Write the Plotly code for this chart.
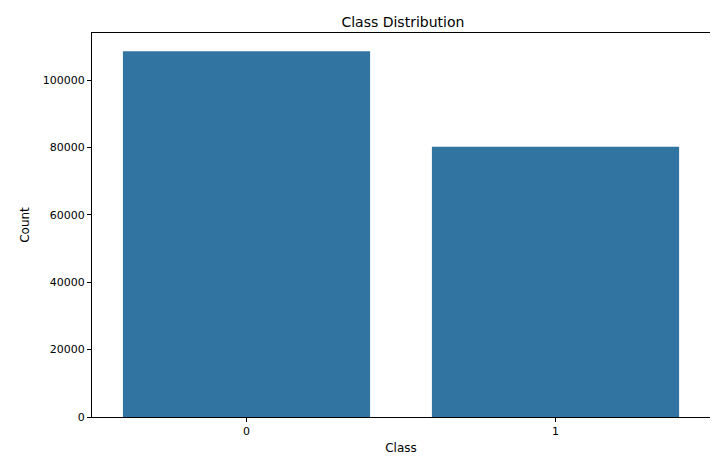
import plotly.graph_objects as go

classes = ["0", "1"]
counts = [108600, 80200]

fig = go.Figure(go.Bar(x=classes, y=counts, marker_color="#3274a1",
                       marker_line_width=0, width=0.8))

axis_common = dict(showline=True, linecolor="black", linewidth=1, mirror=True,
                   ticks="outside", ticklen=4, tickcolor="black", showgrid=False,
                   zeroline=False, tickfont=dict(size=11, color="black"))

fig.update_layout(
    width=718, height=470,
    margin=dict(l=84, r=16, t=25, b=61, autoexpand=False),
    plot_bgcolor="white", paper_bgcolor="white",
    font=dict(family="DejaVu Sans", color="black"),
    title=dict(text="Class Distribution", x=0.55, xanchor="center", y=0.98, font=dict(size=14)),
    xaxis=dict(title=dict(text="Class", font=dict(size=12), standoff=6),
               range=[-0.5, 1.5], **axis_common),
    yaxis=dict(title=dict(text="Count", font=dict(size=12), standoff=10),
               range=[0, 114000], tickvals=[0, 20000, 40000, 60000, 80000, 100000],
               tickformat="d", **axis_common),
    bargap=0.2,
)

fig.write_html("out.html")
